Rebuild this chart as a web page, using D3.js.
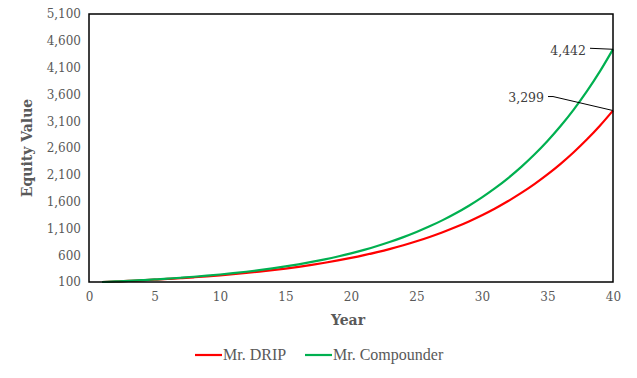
<!DOCTYPE html>
<html>
<head>
<meta charset="utf-8">
<script src="https://cdn.jsdelivr.net/npm/d3@7"></script>
<style>
  html, body { margin: 0; padding: 0; background: #fff; }
  svg { display: block; }
</style>
</head>
<body>
<svg id="chart" width="637" height="378"></svg>
<script>
// ---- data ----
const years = d3.range(1, 41);
const drip = [100, 109.4, 119.6, 130.9, 143.1, 156.6, 171.2, 187.3, 204.9, 224.1,
  245.1, 268.1, 293.2, 320.7, 350.8, 383.7, 419.7, 459.1, 502.1, 549.2,
  600.7, 657.0, 718.7, 786.1, 859.8, 940.4, 1028.6, 1125.1, 1230.6, 1346.1,
  1472.3, 1610.4, 1761.4, 1926.6, 2107.3, 2305.0, 2521.2, 2757.6, 3016.3, 3299];
const compounder = [100, 110.2, 121.5, 133.9, 147.6, 162.6, 179.3, 197.6, 217.7, 240.0,
  264.5, 291.5, 321.3, 354.1, 390.3, 430.2, 474.1, 522.6, 576.0, 634.8,
  699.7, 771.1, 849.9, 936.8, 1032.5, 1137.9, 1254.2, 1382.3, 1523.5, 1679.2,
  1850.7, 2039.8, 2248.2, 2477.8, 2731.0, 3010.0, 3317.5, 3656.4, 4029.9, 4442];
const seriesNames = ["Mr. DRIP", "Mr. Compounder"];
const seriesColors = ["#FF0000", "#00B050"];
const yTicks = [100, 600, 1100, 1600, 2100, 2600, 3100, 3600, 4100, 4600, 5100];
const xTicks = [0, 5, 10, 15, 20, 25, 30, 35, 40];

// ---- layout ----
const svg = d3.select("#chart");
const L = 89, R = 613, T = 14, B = 282;
const x = d3.scaleLinear().domain([0, 40]).range([L, R]);
const y = d3.scaleLinear().domain([100, 5100]).range([B, T]);
const textColor = "#595959";
const tickFont = "'DejaVu Serif', Georgia, serif";

// axes (labels only)
const yAxis = d3.axisLeft(y).tickValues(yTicks).tickSize(0).tickPadding(8)
  .tickFormat(d3.format(","));
const gy = svg.append("g").attr("transform", `translate(${L},0)`).call(yAxis);
gy.select(".domain").remove();
gy.selectAll("text").attr("fill", textColor).style("font-family", tickFont).style("font-size", "12px");

const xAxis = d3.axisBottom(x).tickValues(xTicks).tickSize(0).tickPadding(10);
const gx = svg.append("g").attr("transform", `translate(0,${B})`).call(xAxis);
gx.select(".domain").remove();
gx.selectAll("text").attr("fill", textColor).style("font-family", tickFont).style("font-size", "12px");

// lines
const line = d3.line().x((d, i) => x(years[i])).y(d => y(d)).curve(d3.curveMonotoneX);
[drip, compounder].forEach((s, k) => {
  svg.append("path").datum(s).attr("d", line)
    .attr("fill", "none").attr("stroke", seriesColors[k]).attr("stroke-width", 2.2);
});

// plot border
svg.append("rect").attr("x", L).attr("y", T).attr("width", R - L).attr("height", B - T)
  .attr("fill", "none").attr("stroke", "#000").attr("stroke-width", 1.5);

// axis titles
svg.append("text").attr("x", (L + R) / 2 - 3).attr("y", 325).attr("text-anchor", "middle")
  .attr("fill", textColor).style("font-family", tickFont).style("font-weight", "bold")
  .style("font-size", "14px").text("Year");
svg.append("text").attr("transform", `translate(32,${(T + B) / 2}) rotate(-90)`)
  .attr("text-anchor", "middle").attr("fill", textColor).style("font-family", tickFont)
  .style("font-weight", "bold").style("font-size", "14px").text("Equity Value");

// annotations
const lastC = compounder[compounder.length - 1];
const lastD = drip[drip.length - 1];
const fmt = d3.format(",");
svg.append("path")
  .attr("d", `M${x(40) - 23},${y(lastC) - 1} L${x(40)},${y(lastC)}`)
  .attr("stroke", "#000").attr("fill", "none").attr("stroke-width", 1);
svg.append("text").attr("x", x(40) - 27).attr("y", y(lastC) + 6).attr("text-anchor", "end")
  .attr("fill", "#404040").style("font-family", tickFont).style("font-size", "12.5px").text(fmt(lastC));
svg.append("path")
  .attr("d", `M${x(40) - 65},${y(lastD) - 14} L${x(40) - 60},${y(lastD) - 14} L${x(40)},${y(lastD)}`)
  .attr("stroke", "#000").attr("fill", "none").attr("stroke-width", 1);
svg.append("text").attr("x", x(40) - 69).attr("y", y(lastD) - 9).attr("text-anchor", "end")
  .attr("fill", "#404040").style("font-family", tickFont).style("font-size", "12.5px").text(fmt(lastD));

// legend
const legX = [195, 305];
seriesNames.forEach((n, k) => {
  const g = svg.append("g");
  g.append("line").attr("x1", legX[k]).attr("x2", legX[k] + 27).attr("y1", 355).attr("y2", 355)
    .attr("stroke", seriesColors[k]).attr("stroke-width", 2.2);
  g.append("text").attr("x", legX[k] + 28).attr("y", 360)
    .attr("fill", textColor).style("font-family", "'Liberation Serif', 'Times New Roman', serif")
    .style("font-size", "16px").text(n);
});
</script>
</body>
</html>
